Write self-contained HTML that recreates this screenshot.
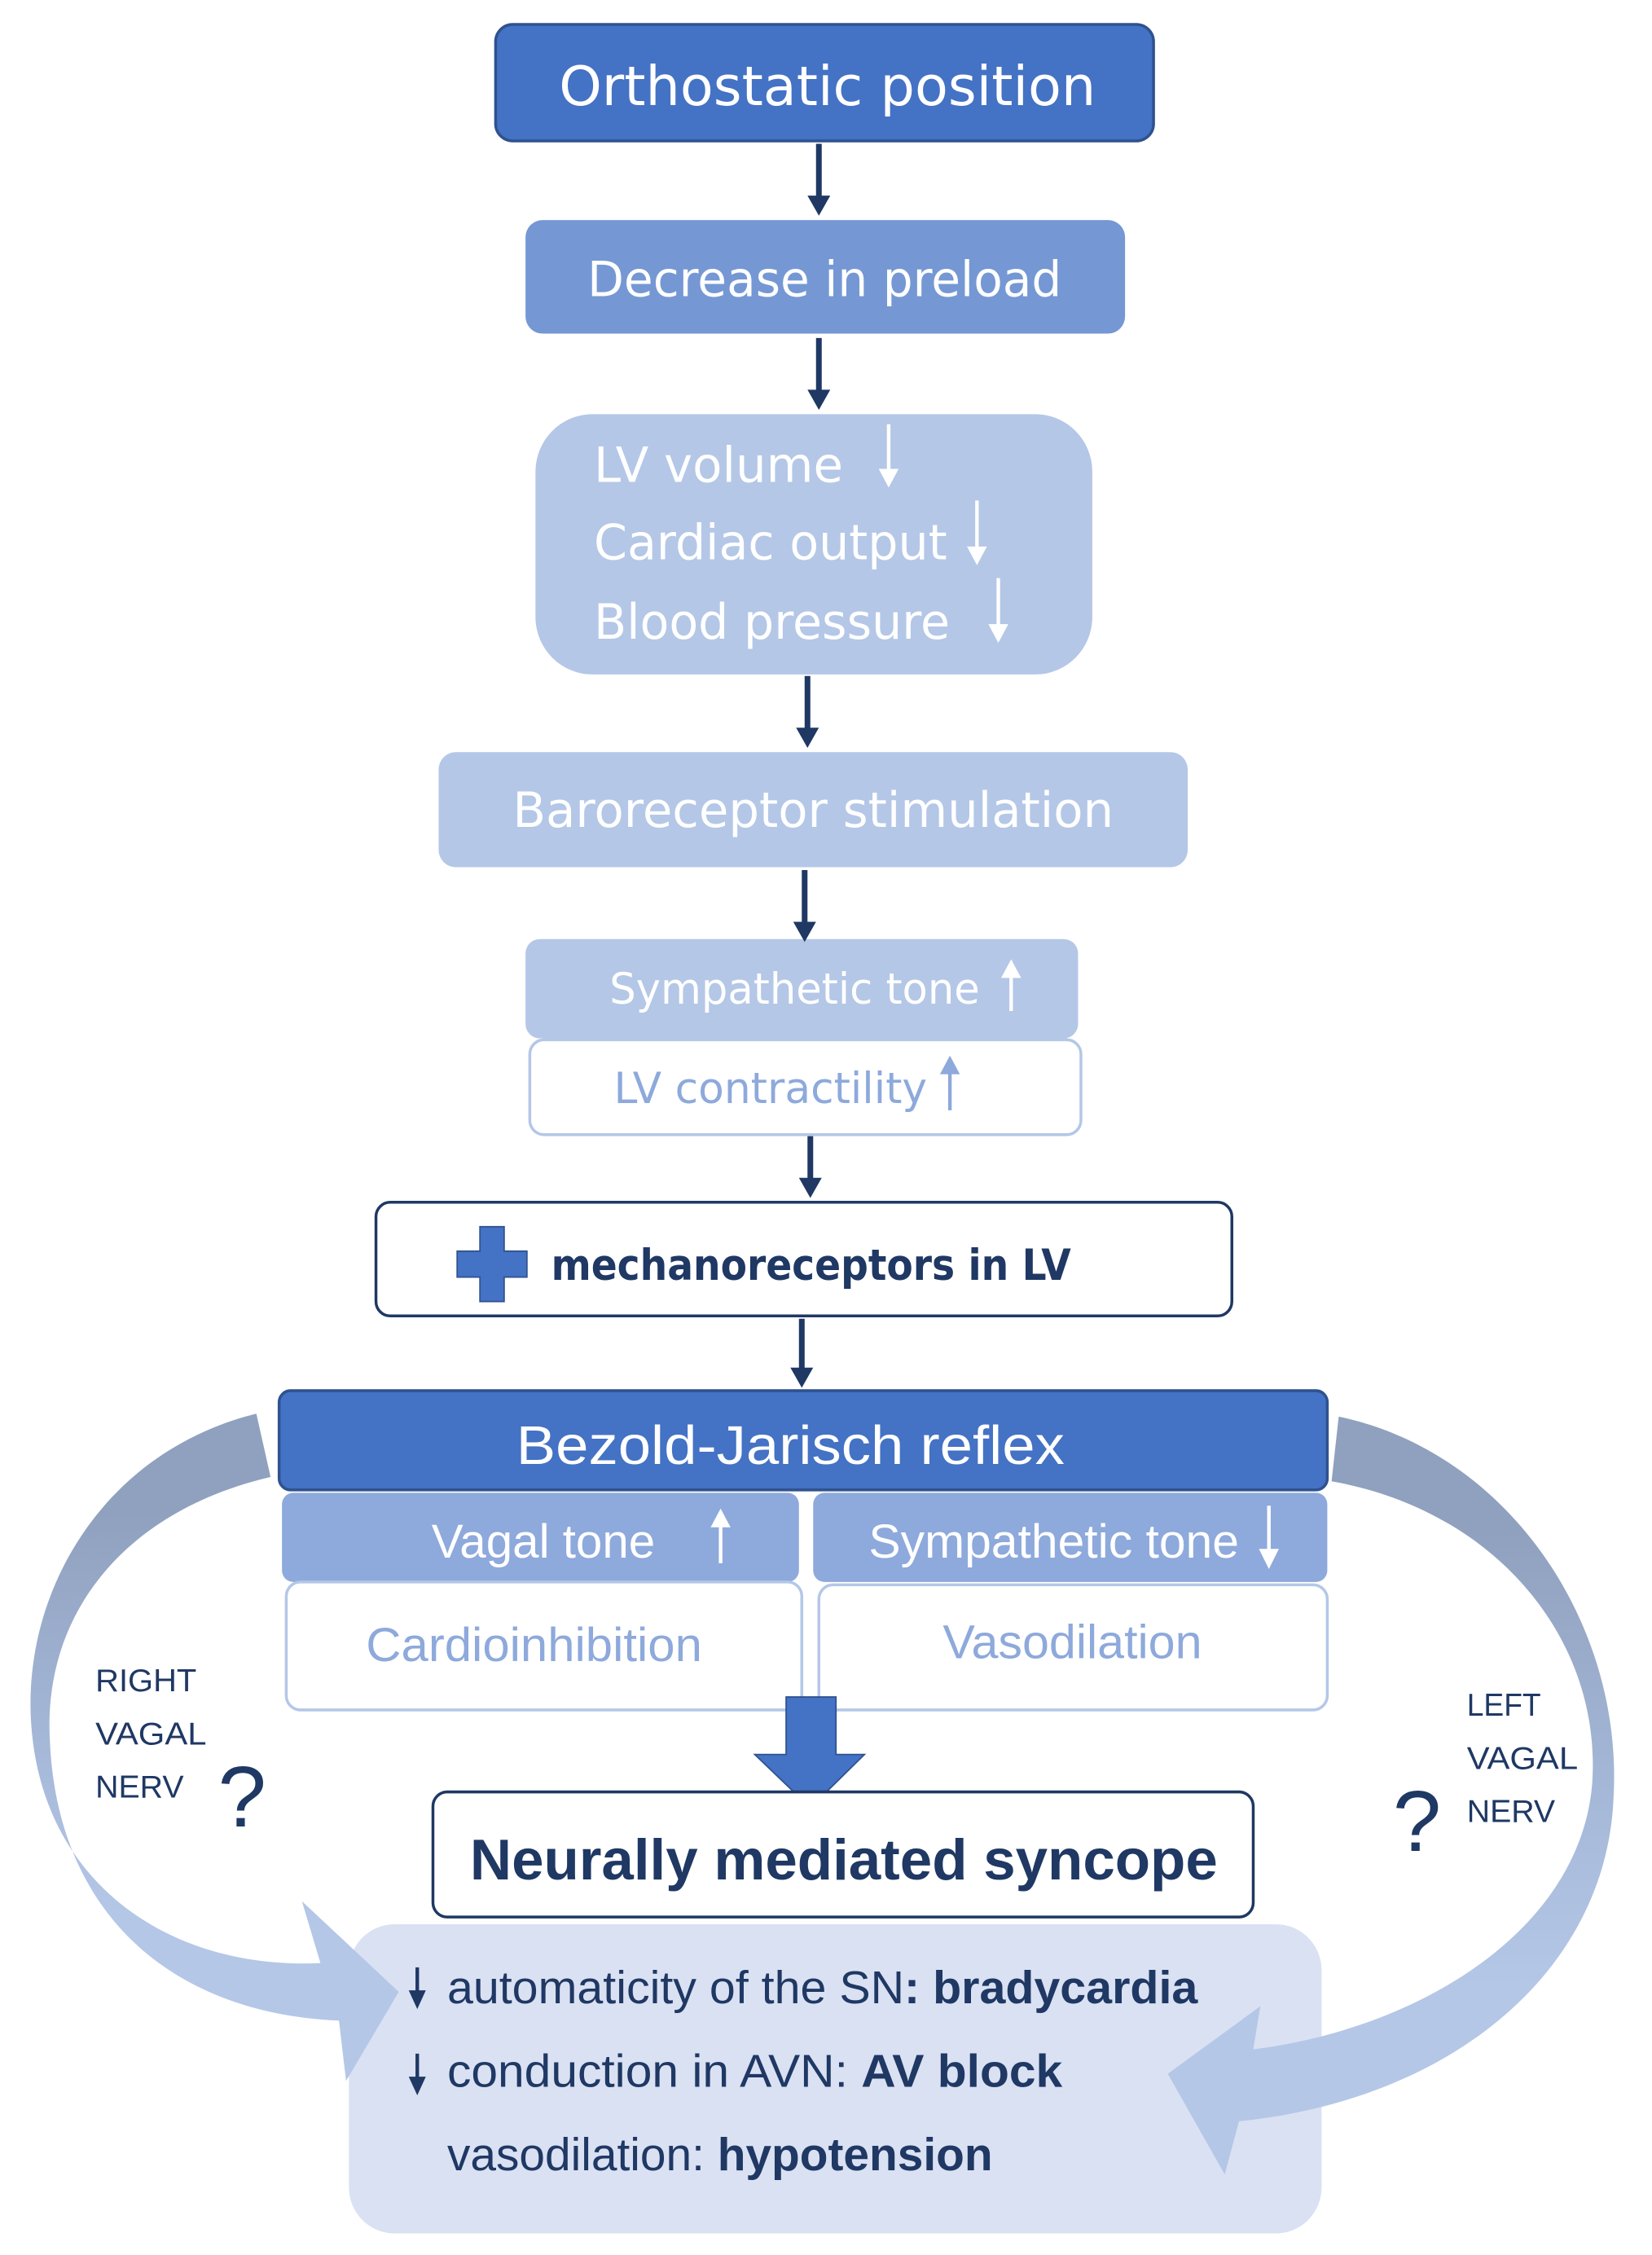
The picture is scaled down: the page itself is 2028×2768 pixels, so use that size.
<!DOCTYPE html>
<html><head><meta charset="utf-8"><style>html,body{margin:0;padding:0;background:#fff}svg{display:block}</style></head>
<body>
<svg width="2028" height="2768" viewBox="0 0 1160 1568" preserveAspectRatio="none" xmlns="http://www.w3.org/2000/svg">
<defs>
<linearGradient id="gl" x1="0" y1="0" x2="0" y2="1"><stop offset="0.15" stop-color="#8FA1BE"/><stop offset="0.5" stop-color="#A6B8D8"/><stop offset="0.75" stop-color="#B4C7E7"/></linearGradient>
</defs>
<g font-family="DejaVu Sans, sans-serif">
<rect x="348" y="17" width="462" height="81" rx="12" fill="#4472C4" stroke="#2F528F" stroke-width="2"/>
<text x="581" y="73" font-size="38" fill="#fff" text-anchor="middle" textLength="377" lengthAdjust="spacingAndGlyphs">Orthostatic position</text>
<rect x="369" y="153" width="421" height="79" rx="12" fill="#7598D4"/>
<text x="579" y="206" font-size="34" fill="#fff" text-anchor="middle" textLength="333" lengthAdjust="spacingAndGlyphs">Decrease in preload</text>
<rect x="376" y="288" width="391" height="181" rx="40" fill="#B4C7E7"/>
<text x="417" y="335" font-size="34" fill="#fff" textLength="175" lengthAdjust="spacingAndGlyphs">LV volume</text>
<text x="417" y="389" font-size="34" fill="#fff" textLength="248" lengthAdjust="spacingAndGlyphs">Cardiac output</text>
<text x="417" y="444" font-size="34" fill="#fff" textLength="250" lengthAdjust="spacingAndGlyphs">Blood pressure</text>
<g stroke="#fff" stroke-width="2.5" fill="#fff">
<line x1="624" y1="295" x2="624" y2="330"/><path d="M617,326 L631,326 L624,339 Z" stroke="none"/>
<line x1="686" y1="348" x2="686" y2="383"/><path d="M679,380 L693,380 L686,393 Z" stroke="none"/>
<line x1="701" y1="402" x2="701" y2="437"/><path d="M694,434 L708,434 L701,447 Z" stroke="none"/>
</g>
<rect x="308" y="523" width="526" height="80" rx="12" fill="#B4C7E7"/>
<text x="571" y="575" font-size="34" fill="#fff" text-anchor="middle" textLength="422" lengthAdjust="spacingAndGlyphs">Baroreceptor stimulation</text>
<rect x="369" y="653" width="388" height="69" rx="10" fill="#B4C7E7"/>
<text x="428" y="698" font-size="30" fill="#fff" textLength="260" lengthAdjust="spacingAndGlyphs">Sympathetic tone</text>
<g stroke="#fff" stroke-width="2.5" fill="#fff"><line x1="710" y1="703" x2="710" y2="676"/><path d="M703,680 L717,680 L710,667 Z" stroke="none"/></g>
<rect x="372" y="723" width="387" height="66" rx="10" fill="#fff" stroke="#B4C7E7" stroke-width="2"/>
<text x="431" y="767" font-size="30" fill="#8EA9DB" textLength="220" lengthAdjust="spacingAndGlyphs">LV contractility</text>
<g stroke="#8EA9DB" stroke-width="2.5" fill="#8EA9DB"><line x1="667" y1="772" x2="667" y2="743"/><path d="M660,747 L674,747 L667,734 Z" stroke="none"/></g>
<rect x="264" y="836" width="601" height="79" rx="10" fill="#fff" stroke="#1F3864" stroke-width="2"/>
<path d="M337,853 h17 v17 h16 v18 h-16 v17 h-17 v-17 h-16 v-18 h16 Z" fill="#4472C4" stroke="#2F528F" stroke-width="1"/>
<text x="387" y="890" font-size="30" font-weight="bold" fill="#1F3864" textLength="365" lengthAdjust="spacingAndGlyphs">mechanoreceptors in LV</text>

<g stroke="#1F3864" stroke-width="4" fill="#1F3864">
<line x1="575" y1="100" x2="575" y2="138"/><path d="M567,136 L583,136 L575,150 Z" stroke="none"/>
<line x1="575" y1="235" x2="575" y2="273"/><path d="M567,271 L583,271 L575,285 Z" stroke="none"/>
<line x1="567" y1="470" x2="567" y2="508"/><path d="M559,506 L575,506 L567,520 Z" stroke="none"/>
<line x1="565" y1="605" x2="565" y2="643"/><path d="M557,641 L573,641 L565,655 Z" stroke="none"/>
<line x1="569" y1="790" x2="569" y2="821"/><path d="M561,819 L577,819 L569,833 Z" stroke="none"/>
<line x1="563" y1="917" x2="563" y2="953"/><path d="M555,951 L571,951 L563,965 Z" stroke="none"/>
</g>
</g>
<g font-family="Liberation Sans, sans-serif">
<rect x="245" y="1338" width="683" height="215" rx="32" fill="#DAE1F2"/>

<path d="M180,983 C70,1010 15,1110 22,1200 C30,1310 120,1370 225,1365 L212,1322 L280,1385 L243,1447 L238,1405 C120,1400 40,1330 35,1210 C30,1120 90,1050 190,1027 Z" fill="url(#gl)"/>
<path d="M940,985 C1060,1010 1140,1130 1133,1250 C1128,1370 1020,1460 870,1475 L860,1512 L820,1442 L885,1395 L880,1425 C1000,1410 1110,1340 1118,1240 C1125,1140 1050,1050 935,1030 Z" fill="url(#gl)"/>

<rect x="196" y="967" width="736" height="69" rx="8" fill="#4472C4" stroke="#2F528F" stroke-width="2"/>
<text x="555" y="1018" font-size="38" fill="#fff" text-anchor="middle" textLength="385" lengthAdjust="spacingAndGlyphs">Bezold-Jarisch reflex</text>
<rect x="198" y="1038" width="363" height="62" rx="8" fill="#8EA9DB"/>
<rect x="571" y="1038" width="361" height="62" rx="8" fill="#8EA9DB"/>
<text x="303" y="1083" font-size="33" fill="#fff" textLength="157" lengthAdjust="spacingAndGlyphs">Vagal tone</text>
<text x="610" y="1083" font-size="33" fill="#fff" textLength="260" lengthAdjust="spacingAndGlyphs">Sympathetic tone</text>
<g stroke="#fff" stroke-width="2.5" fill="#fff">
<line x1="506" y1="1087" x2="506" y2="1058"/><path d="M499,1062 L513,1062 L506,1049 Z" stroke="none"/>
<line x1="891" y1="1047" x2="891" y2="1080"/><path d="M884,1077 L898,1077 L891,1091 Z" stroke="none"/>
</g>
<rect x="201" y="1100" width="362" height="89" rx="10" fill="#fff" stroke="#B4C7E7" stroke-width="2"/>
<rect x="575" y="1102" width="357" height="87" rx="10" fill="#fff" stroke="#B4C7E7" stroke-width="2"/>
<text x="257" y="1155" font-size="33" fill="#8EA9DB" textLength="236" lengthAdjust="spacingAndGlyphs">Cardioinhibition</text>
<text x="662" y="1153" font-size="33" fill="#8EA9DB" textLength="182" lengthAdjust="spacingAndGlyphs">Vasodilation</text>

<path d="M552,1180 h35 v40 h20 l-38,37 l-39,-37 h22 Z" fill="#4472C4" stroke="#2F528F" stroke-width="1"/>

<rect x="304" y="1246" width="576" height="87" rx="10" fill="#fff" stroke="#1F3864" stroke-width="2"/>
<text x="330" y="1307" font-size="40" font-weight="bold" fill="#1F3864" textLength="525" lengthAdjust="spacingAndGlyphs">Neurally mediated syncope</text>

<g fill="#1F3864" font-size="22">
<text x="67" y="1176" textLength="71" lengthAdjust="spacingAndGlyphs">RIGHT</text>
<text x="67" y="1213" textLength="78" lengthAdjust="spacingAndGlyphs">VAGAL</text>
<text x="67" y="1250" textLength="62" lengthAdjust="spacingAndGlyphs">NERV</text>
<text x="1030" y="1193" textLength="52" lengthAdjust="spacingAndGlyphs">LEFT</text>
<text x="1030" y="1230" textLength="78" lengthAdjust="spacingAndGlyphs">VAGAL</text>
<text x="1030" y="1267" textLength="62" lengthAdjust="spacingAndGlyphs">NERV</text>
<text x="153" y="1270" font-size="60" textLength="34" lengthAdjust="spacingAndGlyphs">?</text>
<text x="978" y="1287" font-size="60" textLength="34" lengthAdjust="spacingAndGlyphs">?</text>
</g>

<g fill="#1F3864" font-size="32">
<text x="314" y="1393" textLength="527" lengthAdjust="spacingAndGlyphs">automaticity of the SN<tspan font-weight="bold">: bradycardia</tspan></text>
<text x="314" y="1451" textLength="432" lengthAdjust="spacingAndGlyphs">conduction in AVN:  <tspan font-weight="bold">AV block</tspan></text>
<text x="314" y="1509" textLength="383" lengthAdjust="spacingAndGlyphs">vasodilation: <tspan font-weight="bold">hypotension</tspan></text>
</g>
<g stroke="#1F3864" stroke-width="2.5" fill="#1F3864">
<line x1="293" y1="1368" x2="293" y2="1388"/><path d="M287,1384 L299,1384 L293,1397 Z" stroke="none"/>
<line x1="293" y1="1428" x2="293" y2="1448"/><path d="M287,1444 L299,1444 L293,1457 Z" stroke="none"/>
</g>
</g>
</svg>
</body></html>
